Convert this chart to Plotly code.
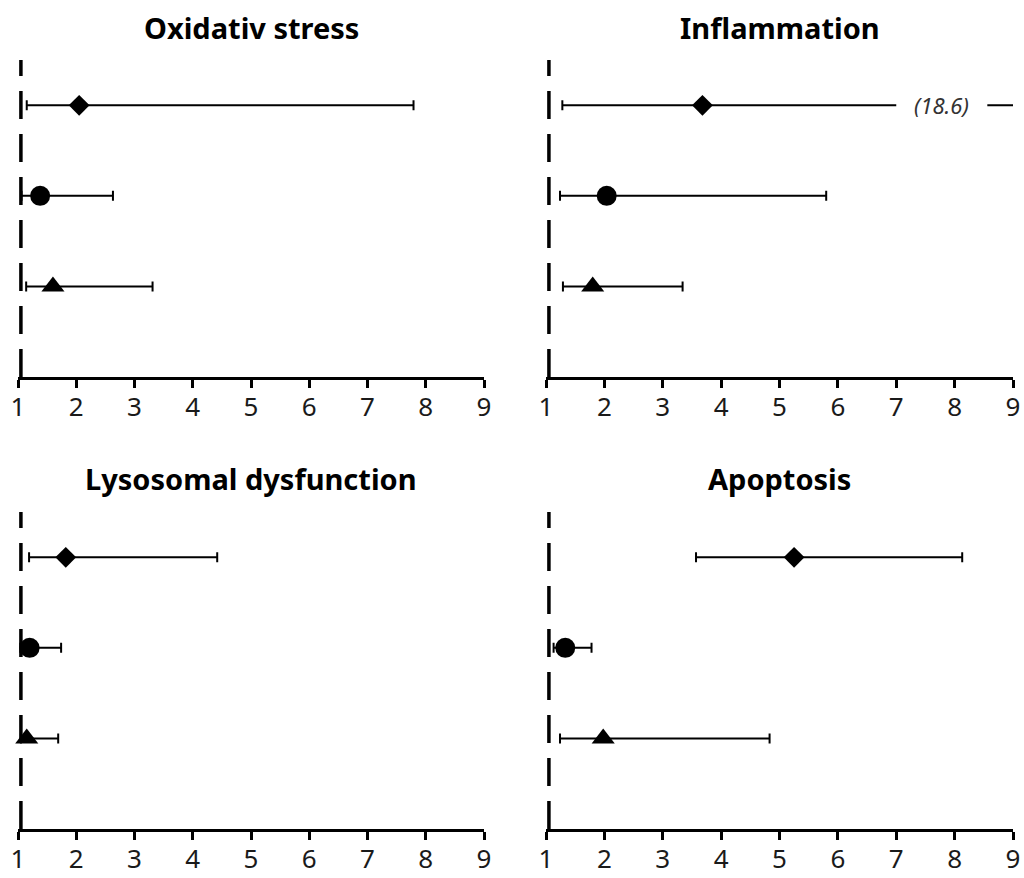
import plotly.graph_objects as go

# ---------------- data ----------------
panel_titles = ["Oxidativ stress", "Inflammation", "Lysosomal dysfunction", "Apoptosis"]

# rows (top -> bottom): diamond, circle, triangle
row_symbols = ["diamond", "circle", "triangle-up"]
row_positions = [3, 2, 1]

or_diamond = [2.05, 3.68, 1.82, 5.25]
lo_diamond = [1.15, 1.28, 1.19, 3.57]
hi_diamond = [7.79, 18.6, 4.42, 8.13]

or_circle = [1.38, 2.04, 1.20, 1.33]
lo_circle = [1.06, 1.24, 1.04, 1.13]
hi_circle = [2.63, 5.80, 1.74, 1.78]

or_triangle = [1.60, 1.80, 1.15, 1.98]
lo_triangle = [1.14, 1.29, 1.05, 1.24]
hi_triangle = [3.31, 3.34, 1.69, 4.83]

x_ticks = [1, 2, 3, 4, 5, 6, 7, 8, 9]
x_range = [1, 9]
y_range = [0, 3.5]
reference_value = 1.05

# broken error bar (upper limit outside axis)
break_label = "(18.6)"
break_panel = 1
break_from = 7.0
break_to = 8.56

# ---------------- layout geometry (pixels) ----------------
W, H = 1024, 878
col_px = [(18, 484), (546, 1013)]
row_px = [(60, 377), (512, 829)]  # (top, bottom)

marker_sizes = {"diamond": 16, "circle": 20, "triangle-up": 20}

fig = go.Figure()

ors = [or_diamond, or_circle, or_triangle]
los = [lo_diamond, lo_circle, lo_triangle]
his = [hi_diamond, hi_circle, hi_triangle]

for p, title in enumerate(panel_titles):
    r, c = divmod(p, 2)
    ax = "" if p == 0 else str(p + 1)
    xa, ya = "x" + ax, "y" + ax
    x0, x1 = col_px[c]
    top, bot = row_px[r]
    fig.update_layout(**{
        "xaxis" + ax: dict(
            domain=[x0 / W, x1 / W], range=x_range, anchor=ya,
            tickvals=x_ticks, ticktext=[str(t) for t in x_ticks],
            ticks="outside", ticklen=8, tickwidth=2.5, tickcolor="black",
            showline=True, linewidth=3, linecolor="black",
            showgrid=False, zeroline=False, automargin=False,
            tickfont=dict(family="Noto Sans", size=26, color="#1a1a1a"),
            ticklabelstandoff=-3,
            fixedrange=True,
        ),
        "yaxis" + ax: dict(
            domain=[1 - bot / H, 1 - top / H], range=y_range, anchor=xa,
            visible=False, showgrid=False, zeroline=False, automargin=False,
            fixedrange=True,
        ),
    })

    xs = [ors[k][p] for k in range(3)]
    lo = [ors[k][p] - los[k][p] for k in range(3)]
    hi = [his[k][p] - ors[k][p] for k in range(3)]

    # error bars (clipped to plot area)
    fig.add_trace(go.Scatter(
        x=xs, y=row_positions, mode="markers", xaxis=xa, yaxis=ya,
        marker=dict(size=1, color="rgba(0,0,0,0)"),
        error_x=dict(type="data", symmetric=False, array=hi, arrayminus=lo,
                     color="black", thickness=2, width=5),
        showlegend=False, hoverinfo="skip",
    ))
    # point estimates
    for k in range(3):
        sym = row_symbols[k]
        fig.add_trace(go.Scatter(
            x=[ors[k][p]], y=[row_positions[k]], mode="markers",
            xaxis=xa, yaxis=ya, cliponaxis=False,
            marker=dict(symbol=sym, size=marker_sizes[sym], color="black",
                        line=dict(width=0)),
            showlegend=False,
        ))

    # dashed reference line
    fig.add_shape(type="line", xref=xa, yref=ya + " domain",
                  x0=reference_value, x1=reference_value, y0=0, y1=1,
                  line=dict(color="black", width=3.5, dash="28px,15px"),
                  layer="below")

    # panel title
    fig.add_annotation(text="<b>" + title + "</b>", xref="paper", yref="paper",
                       x=(x0 + x1) / 2 / W, y=1 - (top - 33) / H,
                       xanchor="center", yanchor="middle", showarrow=False,
                       font=dict(family="Noto Sans", size=29, color="black"))

# break in the truncated error bar with its upper limit label
bax = str(break_panel + 1)
y_break = row_positions[0]
fig.add_shape(type="rect", xref="x" + bax, yref="y" + bax,
              x0=break_from, x1=break_to, y0=y_break - 0.1, y1=y_break + 0.1,
              fillcolor="white", line=dict(width=0), layer="above")
fig.add_annotation(text="<i>" + break_label + "</i>", xref="x" + bax, yref="y" + bax,
                   x=(break_from + break_to) / 2, y=y_break,
                   xanchor="center", yanchor="middle", showarrow=False,
                   font=dict(family="Noto Sans", size=22, color="#333333"))

fig.update_layout(width=W, height=H, margin=dict(l=0, r=0, t=0, b=0, autoexpand=False),
                  paper_bgcolor="white", plot_bgcolor="white")

fig.write_html("out.html")
